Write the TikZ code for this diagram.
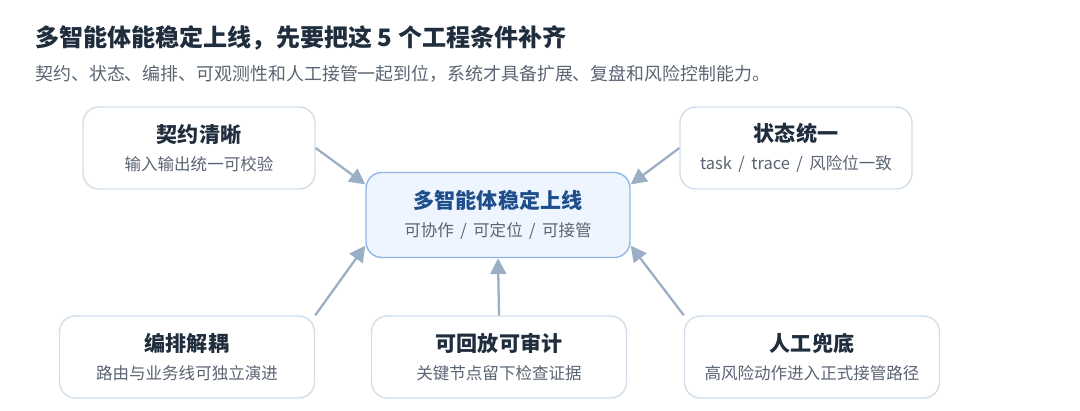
\documentclass[tikz,border=0pt]{standalone}
\usepackage{fontspec}
\setmainfont{Noto Sans CJK SC}
\usetikzlibrary{arrows.meta}
\definecolor{edgegray}{HTML}{D3DEEB}
\definecolor{arrowgray}{HTML}{9AAFC6}
\definecolor{hubblue}{HTML}{8FB6E6}
\definecolor{hubfill}{HTML}{EEF5FF}
\definecolor{titleblue}{HTML}{1F4E8C}
\definecolor{darktext}{HTML}{1F2D3D}
\definecolor{subtext}{HTML}{5A6472}
\tikzset{
  card/.style={draw=edgegray, line width=0.8pt, rounded corners=9pt, fill=white,
    minimum height=1.64cm, align=center, inner sep=0pt},
  hub/.style={card, draw=hubblue, fill=hubfill, minimum width=5.28cm, minimum height=1.7cm},
  link/.style={draw=arrowgray, line width=1.3pt, -{Triangle[length=9pt,width=9pt]}}
}
\newcommand{\cardtext}[2]{{\fontsize{12pt}{14pt}\selectfont\bfseries\color{darktext}#1}\\[4pt]{\fontsize{9.4pt}{11pt}\selectfont\color{subtext}#2}}
\begin{document}
\begin{tikzpicture}[x=0.02cm, y=-0.02cm]
\useasboundingbox (0,0) rectangle (1080,410);
\node[anchor=west, inner sep=0pt, font=\fontsize{13.7pt}{16pt}\selectfont\bfseries, text=darktext] (title) at (35,38) {多智能体能稳定上线，先要把这 5 个工程条件补齐};
\node[anchor=west, inner sep=0pt, font=\fontsize{10.2pt}{12pt}\selectfont, text=subtext] (subtitle) at (35,74) {契约、状态、编排、可观测性和人工接管一起到位，系统才具备扩展、复盘和风险控制能力。};

\node[hub] (hub) at (498,215) {{\fontsize{12pt}{14pt}\selectfont\bfseries\color{titleblue}多智能体稳定上线}\\[4pt]{\fontsize{9.4pt}{11pt}\selectfont\color{subtext}可协作 \,/\, 可定位 \,/\, 可接管}};
\node[card, minimum width=4.64cm] (contract) at (199,148) {\cardtext{契约清晰}{输入输出统一可校验}};
\node[card, minimum width=4.64cm] (state) at (796,148) {\cardtext{状态统一}{task \,/\, trace \,/\, 风险位一致}};
\node[card, minimum width=5.1cm] (decouple) at (187,357) {\cardtext{编排解耦}{路由与业务线可独立演进}};
\node[card, minimum width=5.1cm] (replay) at (499,357) {\cardtext{可回放可审计}{关键节点留下检查证据}};
\node[card, minimum width=5.1cm] (takeover) at (812,357) {\cardtext{人工兜底}{高风险动作进入正式接管路径}};

\draw[link] (contract.east) -- (hub.167);
\draw[link] (state.west) -- (hub.13);
\draw[link] (decouple.north east) -- (hub.193);
\draw[link] (replay.north) -- (hub.south);
\draw[link] (takeover.north west) -- (hub.347);
\end{tikzpicture}
\end{document}
